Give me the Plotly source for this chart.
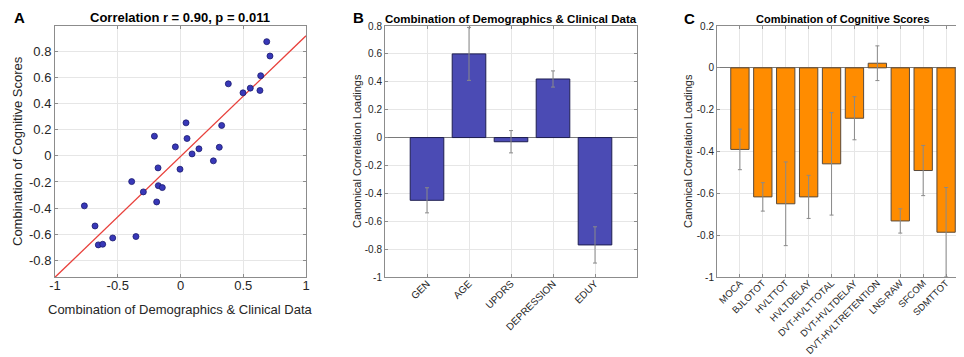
import plotly.graph_objects as go

# ---------------- data ----------------
scatter_x = [0.687, 0.713, 0.639, 0.633, 0.556, 0.498, 0.381, 0.328, 0.309, 0.262,
             0.147, 0.092, 0.052, 0.044, -0.004, -0.041, -0.208, -0.179, -0.389,
             -0.296, -0.177, -0.145, -0.190, -0.766, -0.681, -0.655, -0.620, -0.540, -0.355]
scatter_y = [0.875, 0.765, 0.614, 0.501, 0.519, 0.483, 0.552, 0.233, 0.066, -0.038,
             0.054, 0.015, 0.133, 0.253, -0.102, 0.069, 0.151, -0.092, -0.197,
             -0.276, -0.228, -0.243, -0.353, -0.383, -0.537, -0.682, -0.677, -0.629, -0.618]
fit_x = [-1.0, 1.0]
fit_y = [-0.93, 0.92]

demo_labels = ["GEN", "AGE", "UPDRS", "DEPRESSION", "EDUY"]
demo_vals = [-0.45, 0.60, -0.03, 0.42, -0.77]
demo_err = [0.09, 0.19, 0.08, 0.058, 0.13]

cog_labels = ["MOCA", "BJLOTOT", "HVLTTOT", "HVLTDELAY", "DVT-HVLTTOTAL", "DVT-HVLTDELAY",
              "DVT-HVLTRETENTION", "LNS-RAW", "SFCOM", "SDMTTOT"]
cog_vals = [-0.39, -0.617, -0.65, -0.617, -0.459, -0.241, 0.022, -0.732, -0.491, -0.786]
cog_err = [0.097, 0.068, 0.2, 0.103, 0.245, 0.103, 0.083, 0.058, 0.12, 0.214]

W, H = 964, 357
FONT = "Liberation Sans, Arial, sans-serif"
TXT = "#262626"
FRAME = "#8c8c8c"
GRID = "#e6e6e6"


def px_x(p):
    return p / W


def px_y(p):
    return 1 - p / H


ydom = [px_y(269), px_y(18)]

fig = go.Figure()

# Panel A
fig.add_trace(go.Scatter(x=fit_x, y=fit_y, mode="lines",
                         line=dict(color="#e8413c", width=1.3),
                         xaxis="x", yaxis="y", showlegend=False, hoverinfo="skip"))
fig.add_trace(go.Scatter(x=scatter_x, y=scatter_y, mode="markers",
                         marker=dict(size=6, color="#3838b8",
                                     line=dict(color="#1a1a6e", width=0.8)),
                         xaxis="x", yaxis="y", showlegend=False))

# Panel B
fig.add_trace(go.Bar(x=list(range(1, len(demo_vals) + 1)), y=demo_vals, width=0.8,
                     marker=dict(color="#4b4bb4", line=dict(color="#1e1e50", width=1)),
                     error_y=dict(type="data", array=demo_err, color="#8a8a8a",
                                  thickness=1, width=2),
                     xaxis="x2", yaxis="y2", showlegend=False))

# Panel C
fig.add_trace(go.Bar(x=list(range(1, len(cog_vals) + 1)), y=cog_vals, width=0.8,
                     marker=dict(color="#ff8c00", line=dict(color="#5a4a3a", width=1)),
                     error_y=dict(type="data", array=cog_err, color="#8a8a8a",
                                  thickness=1, width=2),
                     xaxis="x3", yaxis="y3", showlegend=False))

common = dict(showline=True, linecolor=FRAME, linewidth=1, mirror="ticks",
              ticks="inside", ticklen=3, tickcolor=FRAME, showgrid=True,
              gridcolor=GRID, gridwidth=1, zeroline=False, automargin=False,
              tickfont=dict(family=FONT, color=TXT))

layout = dict(
    width=W, height=H, margin=dict(l=0, r=0, t=0, b=0),
    paper_bgcolor="white", plot_bgcolor="white", bargap=0.2,
    xaxis=dict(domain=[px_x(47), px_x(298)], range=[-1, 1],
               tickvals=[-1, -0.5, 0, 0.5, 1], ticktext=["-1", "-0.5", "0", "0.5", "1"],
               ticklabelstandoff=-4,
               **{**common, "tickfont": dict(family=FONT, color=TXT, size=13)}),
    yaxis=dict(domain=ydom, range=[-0.928, 0.995],
               tickvals=[-0.8, -0.6, -0.4, -0.2, 0, 0.2, 0.4, 0.6, 0.8],
               ticktext=["-0.8", "-0.6", "-0.4", "-0.2", "0", "0.2", "0.4", "0.6", "0.8"],
               anchor="x",
               **{**common, "tickfont": dict(family=FONT, color=TXT, size=13)}),
    xaxis2=dict(domain=[px_x(377), px_x(629)], range=[0, len(demo_vals) + 1],
                tickvals=list(range(1, len(demo_vals) + 1)), ticktext=demo_labels,
                tickangle=-45, anchor="y2", ticklabelstandoff=-4,
                **{**common, "tickfont": dict(family=FONT, color=TXT, size=10)}),
    yaxis2=dict(domain=ydom, range=[-1, 0.8], anchor="x2",
                tickvals=[-1, -0.8, -0.6, -0.4, -0.2, 0, 0.2, 0.4, 0.6, 0.8],
                ticktext=["-1", "-0.8", "-0.6", "-0.4", "-0.2", "0", "0.2", "0.4", "0.6", "0.8"],
                **{**common, "zeroline": True, "zerolinecolor": "#7a7a7a", "zerolinewidth": 1,
                   "tickfont": dict(family=FONT, color=TXT, size=10)}),
    xaxis3=dict(domain=[px_x(709), px_x(961)], range=[0, len(cog_vals) + 1],
                tickvals=list(range(1, len(cog_vals) + 1)), ticktext=cog_labels,
                tickangle=-45, anchor="y3", ticklabelstandoff=-4,
                **{**common, "tickfont": dict(family=FONT, color=TXT, size=9.5)}),
    yaxis3=dict(domain=ydom, range=[-1, 0.2], anchor="x3",
                tickvals=[-1, -0.8, -0.6, -0.4, -0.2, 0, 0.2],
                ticktext=["-1", "-0.8", "-0.6", "-0.4", "-0.2", "0", "0.2"],
                **{**common, "zeroline": True, "zerolinecolor": "#7a7a7a", "zerolinewidth": 1,
                   "tickfont": dict(family=FONT, color=TXT, size=10)}),
)
fig.update_layout(**layout)

ann = []


def add_text(text, x, y, size, bold=False, angle=0, xanchor="center"):
    ann.append(dict(text=f"<b>{text}</b>" if bold else text, x=px_x(x), y=px_y(y),
                    xref="paper", yref="paper", showarrow=False, textangle=angle,
                    xanchor=xanchor, yanchor="middle",
                    font=dict(family=FONT, size=size, color="black" if bold else TXT)))


add_text("A", 11, 9, 15, bold=True)
add_text("B", 350, 9, 15, bold=True)
add_text("C", 681, 10, 15, bold=True)
add_text("Correlation r = 0.90, p = 0.011", 172, 9, 13, bold=True)
add_text("Combination of Demographics &amp; Clinical Data", 503, 11, 11.5, bold=True)
add_text("Combination of Cognitive Scores", 835, 11, 11, bold=True)
add_text("Combination of Demographics &amp; Clinical Data", 172, 301, 13)
add_text("Combination of Cognitive Scores", 9, 143, 13, angle=-90)
add_text("Canonical Correlation Loadings", 349, 143, 11, angle=-90)
add_text("Canonical Correlation Loadings", 680, 143, 11, angle=-90)
fig.update_layout(annotations=ann)

fig.write_html("out.html")
